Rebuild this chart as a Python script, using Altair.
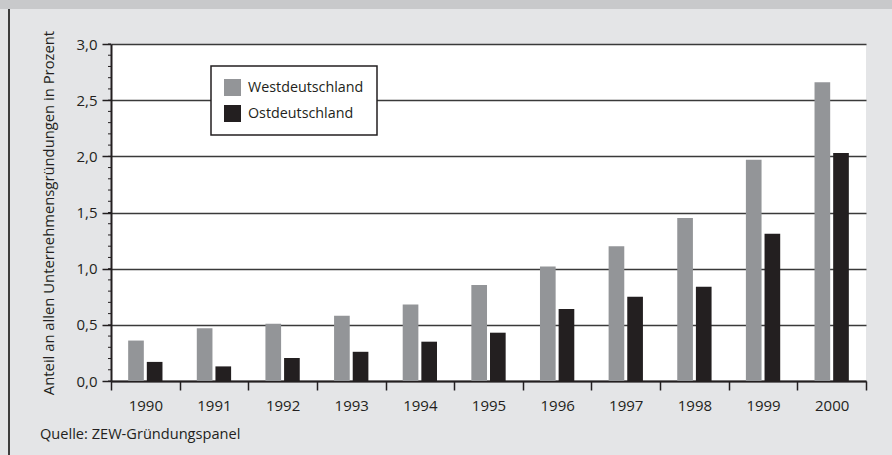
import altair as alt
import pandas as pd

years = ["1990", "1991", "1992", "1993", "1994", "1995", "1996", "1997", "1998", "1999", "2000"]
west = [0.36, 0.47, 0.51, 0.58, 0.68, 0.855, 1.02, 1.20, 1.45, 1.97, 2.66]
ost = [0.17, 0.13, 0.205, 0.26, 0.35, 0.43, 0.64, 0.75, 0.84, 1.31, 2.03]
regions = ["Westdeutschland", "Ostdeutschland"]
colors = ["#939598", "#231f20"]
y_ticks = [0, 0.5, 1.0, 1.5, 2.0, 2.5, 3.0]
minor_ticks = [round(i / 10, 1) for i in range(0, 31)]
y_title = "Anteil an allen Unternehmensgründungen in Prozent"
source = "Quelle: ZEW-Gründungspanel"

FONT = "Open Sans"
INK = "#231f20"

rows = []
for i, yr in enumerate(years):
    rows.append({"Jahr": yr, "Region": regions[0], "Wert": west[i]})
    rows.append({"Jahr": yr, "Region": regions[1], "Wert": ost[i]})
df = pd.DataFrame(rows)

yscale = alt.Scale(domain=[0, 3], nice=False, zero=True)
y_axis = alt.Axis(title=y_title, values=y_ticks,
                  labelExpr="replace(format(datum.value, '.1f'), '.', ',')",
                  tickSize=9, labelPadding=5, domainColor=INK, domainWidth=2,
                  tickColor=INK, tickWidth=1.5, labelFontSize=15, labelColor=INK,
                  labelFont=FONT, titleFont=FONT, titleFontSize=14.8,
                  titleFontWeight="normal", titleColor=INK, titlePadding=19,
                  grid=True, gridColor="#3a3a3a", gridWidth=1.5)

bars = alt.Chart(df).mark_bar().encode(
    x=alt.X("Jahr:N", sort=years,
            scale=alt.Scale(paddingInner=0, paddingOuter=0),
            axis=alt.Axis(title=None, labelAngle=0, tickBand="extent", tickSize=9,
                          labelPadding=8, domainColor=INK, domainWidth=2, tickColor=INK,
                          tickWidth=1.5, labelFontSize=15, labelColor=INK, labelFont=FONT,
                          grid=False)),
    xOffset=alt.XOffset("Region:N", sort=regions,
                        scale=alt.Scale(domain=regions, paddingInner=0.16, paddingOuter=0.92)),
    y=alt.Y("Wert:Q", scale=yscale, axis=y_axis),
    color=alt.Color("Region:N", sort=regions,
                    scale=alt.Scale(domain=regions, range=colors),
                    legend=alt.Legend(title=None, orient="none", legendX=100, legendY=22,
                                      symbolType="square", symbolSize=289,
                                      symbolStrokeWidth=0, labelFontSize=14.3,
                                      labelFont=FONT, labelColor=INK, labelOffset=7,
                                      rowPadding=9, padding=13, strokeColor=INK,
                                      fillColor="white")),
)

minor_df = pd.DataFrame({"Wert": minor_ticks})
minor = alt.Chart(minor_df).mark_rule(color=INK, strokeWidth=1).encode(
    y=alt.Y("Wert:Q", scale=yscale, axis=y_axis),
    x=alt.value(-3),
    x2=alt.value(0),
)

deco_df = pd.DataFrame({"k": [0]})
top_band = alt.Chart(deco_df).mark_rect(color="#c8c9cb").encode(
    x=alt.value(-111), x2=alt.value(781), y=alt.value(-44), y2=alt.value(-35)
)
left_line = alt.Chart(deco_df).mark_rule(color="#3d3d3d", strokeWidth=2).encode(
    x=alt.value(-102), y=alt.value(-35), y2=alt.value(411)
)
src = alt.Chart(pd.DataFrame({"t": [source]})).mark_text(
    align="left", baseline="alphabetic", font=FONT, fontSize=14.6, color=INK
).encode(x=alt.value(-71), y=alt.value(395), text="t:N")

chart = alt.layer(top_band, left_line, bars, minor, src).properties(
    width=755, height=337,
    autosize=alt.AutoSizeParams(type="none"),
    padding={"left": 111, "top": 44, "right": 26, "bottom": 74},
    background="#e4e5e7",
).configure_view(fill="white", stroke=None).configure_legend(strokeWidth=1.5)

chart.save("out.html", embed_options={"renderer": "svg", "actions": False})
